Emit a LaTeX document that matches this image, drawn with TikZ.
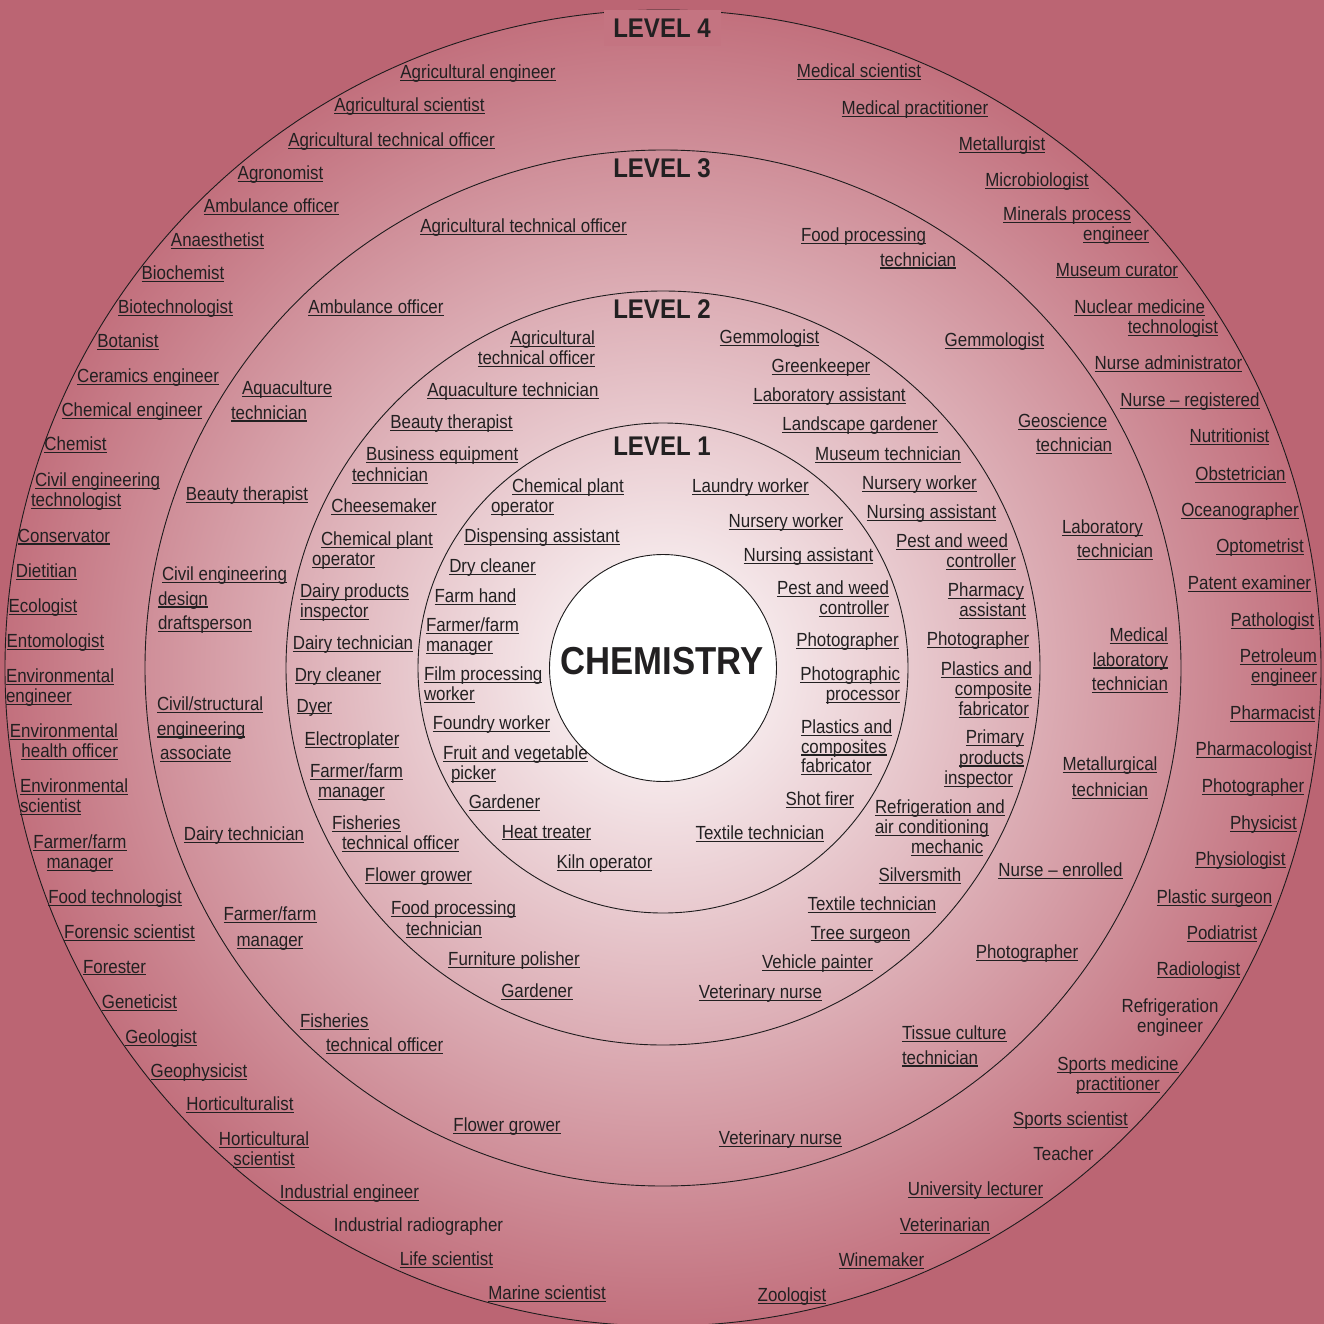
\documentclass[tikz,border=0pt]{standalone}
\usepackage{fontspec}
\setmainfont[FakeStretch=0.89]{Liberation Sans}
\definecolor{bgc}{RGB}{187,101,115}
\definecolor{edgec}{RGB}{194,112,125}
\definecolor{patchc}{RGB}{196,116,129}
\definecolor{txt}{RGB}{34,32,33}
\definecolor{linec}{RGB}{30,28,29}
\newsavebox\ulxbox
\newcommand\ulx[1]{\sbox\ulxbox{#1}\rlap{\rule[-2.3pt]{\wd\ulxbox}{1.1pt}}\usebox\ulxbox}
\tikzset{
 lab/.style={inner sep=0pt, outer sep=0pt, text=txt, font=\fontsize{19}{20}\selectfont, anchor=north},
 labw/.style={lab, anchor=north west, align=left},
 labe/.style={lab, anchor=north east, align=right},
 labc/.style={lab, anchor=north, align=center},
 wide/.style={font=\fontsize{19}{24.5}\selectfont},
 lvl/.style={inner sep=0pt, outer sep=0pt, text=txt, font=\bfseries\fontsize{27}{27}\selectfont, anchor=north},
 ring/.style={draw=linec, line width=0.9pt}
}
\begin{document}
\begin{tikzpicture}[x=1pt,y=-1pt]
\useasboundingbox (0,0) rectangle (1324,1324);
\fill[bgc] (0,0) rectangle (1324,1324);
\shade[inner color=white, outer color=edgec] (663,668) circle (658pt);
\draw[ring] (663,668) circle (658pt);
\draw[ring] (663,668) circle (518pt);
\draw[ring] (663,668) circle (377pt);
\draw[ring] (663,668) circle (245pt);
\draw[ring, fill=white] (663,668) circle (113.5pt);
% level titles
\node[lvl, fill=patchc, minimum width=117pt, minimum height=36pt] (lv4) at (662,10) {LEVEL 4};
\node[lvl] (lv3) at (662,159) {LEVEL 3};
\node[lvl] (lv2) at (662,300) {LEVEL 2};
\node[lvl] (lv1) at (662,437) {LEVEL 1};
\node[inner sep=0pt, text=txt, font=\bfseries\fontsize{39}{39}\selectfont, anchor=north] (chem) at (662,647) {CHEMISTRY};
% ---------- level 4, left ----------
\node[lab] (a01) at (478,65) {\ulx{Agricultural engineer}};
\node[lab] (a02) at (409.5,98) {\ulx{Agricultural scientist}};
\node[lab] (a03) at (391.5,133) {\ulx{Agricultural technical officer}};
\node[lab] (a04) at (280.5,166) {\ulx{Agronomist}};
\node[lab] (a05) at (271.5,199) {\ulx{Ambulance officer}};
\node[lab] (a06) at (217.5,233) {\ulx{Anaesthetist}};
\node[lab] (a07) at (183,266) {\ulx{Biochemist}};
\node[lab] (a08) at (175.5,300) {\ulx{Biotechnologist}};
\node[lab] (a09) at (128,334) {\ulx{Botanist}};
\node[lab] (a10) at (148,369) {\ulx{Ceramics engineer}};
\node[lab] (a11) at (132,403) {\ulx{Chemical engineer}};
\node[lab] (a12) at (75.5,437) {\ulx{Chemist}};
\node[labw] (a13) at (31,473) {\hspace*{4pt}\ulx{Civil engineering}\\\ulx{technologist}};
\node[lab] (a14) at (64,529) {\ulx{Conservator}};
\node[lab] (a15) at (46.5,564) {\ulx{Dietitian}};
\node[lab] (a16) at (43,599) {\ulx{Ecologist}};
\node[lab] (a17) at (55.5,634) {\ulx{Entomologist}};
\node[labw] (a18) at (6,669) {\ulx{Environmental}\\\ulx{engineer}};
\node[labe] (a19) at (118,724) {\ulx{Environmental}\\\ulx{health officer}};
\node[labw] (a20) at (20,779) {\ulx{Environmental}\\\ulx{scientist}};
\node[labc] (a21) at (80,835) {\ulx{Farmer/farm}\\\ulx{manager}};
\node[lab] (a22) at (115,890) {\ulx{Food technologist}};
\node[lab] (a23) at (129.5,925) {\ulx{Forensic scientist}};
\node[lab] (a24) at (114.5,960) {\ulx{Forester}};
\node[lab] (a25) at (139.5,995) {\ulx{Geneticist}};
\node[lab] (a26) at (161,1030) {\ulx{Geologist}};
\node[lab] (a27) at (199,1064) {\ulx{Geophysicist}};
\node[lab] (a28) at (240,1097) {\ulx{Horticulturalist}};
\node[labc] (a29) at (264,1132) {\ulx{Horticultural}\\\ulx{scientist}};
\node[lab] (a30) at (349.5,1185) {\ulx{Industrial engineer}};
\node[lab] (a31) at (418.5,1218) {Industrial radiographer};
\node[lab] (a32) at (446.5,1252) {\ulx{Life scientist}};
\node[lab] (a33) at (547,1286) {\ulx{Marine scientist}};
% ---------- level 4, right ----------
\node[lab] (b01) at (859,64) {\ulx{Medical scientist}};
\node[lab] (b02) at (915,101) {\ulx{Medical practitioner}};
\node[lab] (b03) at (1002,137) {\ulx{Metallurgist}};
\node[lab] (b04) at (1037,173) {\ulx{Microbiologist}};
\node[labe] (b05) at (1149,207) {\ulx{Minerals process}\hspace*{18pt}\\\ulx{engineer}};
\node[lab] (b06) at (1117,263) {\ulx{Museum curator}};
\node[labe] (b07) at (1218,300) {\ulx{Nuclear medicine}\hspace*{13pt}\\\ulx{technologist}};
\node[lab] (b08) at (1168.5,356) {\ulx{Nurse administrator}};
\node[lab] (b09) at (1190,393) {\ulx{Nurse -- registered}};
\node[lab] (b10) at (1229.5,429) {\ulx{Nutritionist}};
\node[lab] (b11) at (1240.5,467) {\ulx{Obstetrician}};
\node[lab] (b12) at (1240,503) {\ulx{Oceanographer}};
\node[lab] (b13) at (1260,539) {\ulx{Optometrist}};
\node[lab] (b14) at (1249.5,576) {\ulx{Patent examiner}};
\node[lab] (b15) at (1272.5,613) {\ulx{Pathologist}};
\node[labe] (b16) at (1317,649) {\ulx{Petroleum}\\\ulx{engineer}};
\node[lab] (b17) at (1272.5,706) {\ulx{Pharmacist}};
\node[lab] (b18) at (1254,742) {\ulx{Pharmacologist}};
\node[lab] (b19) at (1253,779) {\ulx{Photographer}};
\node[lab] (b20) at (1263.5,816) {\ulx{Physicist}};
\node[lab] (b21) at (1240.5,852) {\ulx{Physiologist}};
\node[lab] (b22) at (1214.5,890) {\ulx{Plastic surgeon}};
\node[lab] (b23) at (1222,926) {\ulx{Podiatrist}};
\node[lab] (b24) at (1198.5,962) {\ulx{Radiologist}};
\node[labc] (b25) at (1170,999) {Refrigeration\\engineer};
\node[labc] (b26) at (1118,1057) {\ulx{Sports medicine}\\\ulx{practitioner}};
\node[lab] (b27) at (1070.5,1112) {\ulx{Sports scientist}};
\node[lab] (b28) at (1063.5,1147) {Teacher};
\node[lab] (b29) at (975.5,1182) {\ulx{University lecturer}};
\node[lab] (b30) at (945,1218) {\ulx{Veterinarian}};
\node[lab] (b31) at (881.5,1253) {\ulx{Winemaker}};
\node[lab] (b32) at (792,1288) {\ulx{Zoologist}};
% ---------- level 3 ----------
\node[lab] (c01) at (523.5,219) {\ulx{Agricultural technical officer}};
\node[labw, wide] (c02) at (801,228) {\ulx{Food processing}\\\hspace*{79pt}\ulx{technician}};
\node[lab] (c03) at (376,300) {\ulx{Ambulance officer}};
\node[labw, wide] (c04) at (231,381) {\hspace*{11pt}\ulx{Aquaculture}\\\ulx{technician}};
\node[lab] (c05) at (247,487) {\ulx{Beauty therapist}};
\node[labw, wide] (c06) at (158,567) {\hspace*{4pt}\ulx{Civil engineering}\\\ulx{design}\\\ulx{draftsperson}};
\node[labw, wide] (c07) at (157,697) {\ulx{Civil/structural}\\\ulx{engineering}\\\hspace*{3pt}\ulx{associate}};
\node[lab] (c08) at (244,827) {\ulx{Dairy technician}};
\node[labc, font=\fontsize{19}{26}\selectfont] (c09) at (270,907) {\ulx{Farmer/farm}\\\ulx{manager}};
\node[labw, font=\fontsize{19}{24}\selectfont] (c10) at (300,1014) {\ulx{Fisheries}\\\hspace*{26pt}\ulx{technical officer}};
\node[lab] (c11) at (507,1118) {\ulx{Flower grower}};
\node[lab] (c12) at (780.5,1131) {\ulx{Veterinary nurse}};
\node[labw, wide] (c13) at (902,1026) {\ulx{Tissue culture}\\\ulx{technician}};
\node[lab] (c14) at (1027,945) {\ulx{Photographer}};
\node[lab] (c15) at (1060.5,863) {\ulx{Nurse -- enrolled}};
\node[labc, font=\fontsize{19}{26}\selectfont] (c16) at (1110,757) {\ulx{Metallurgical}\\\ulx{technician}};
\node[labe, wide] (c17) at (1168,628) {\ulx{Medical}\\\ulx{laboratory}\\\ulx{technician}};
\node[labw, font=\fontsize{19}{24}\selectfont] (c18) at (1062,520) {\ulx{Laboratory}\\\hspace*{15pt}\ulx{technician}};
\node[labw, font=\fontsize{19}{24}\selectfont] (c19) at (1018,414) {\ulx{Geoscience}\\\hspace*{18pt}\ulx{technician}};
\node[lab] (c20) at (994.5,333) {\ulx{Gemmologist}};
% ---------- level 2 ----------
\node[labe] (d01) at (595,331) {\ulx{Agricultural}\\\ulx{technical officer}};
\node[lab] (d02) at (769.5,330) {\ulx{Gemmologist}};
\node[lab] (d03) at (821,359) {\ulx{Greenkeeper}};
\node[lab] (d04) at (829.5,388) {\ulx{Laboratory assistant}};
\node[lab] (d05) at (860,417) {\ulx{Landscape gardener}};
\node[lab] (d06) at (513,383) {\ulx{Aquaculture technician}};
\node[lab] (d07) at (451.5,415) {\ulx{Beauty therapist}};
\node[labw, font=\fontsize{19}{21}\selectfont] (d08) at (352,447) {\hspace*{14pt}\ulx{Business equipment}\\\ulx{technician}};
\node[lab] (d09) at (384,499) {\ulx{Cheesemaker}};
\node[labw] (d10) at (312,532) {\hspace*{9pt}\ulx{Chemical plant}\\\ulx{operator}};
\node[labw] (d11) at (300,584) {\ulx{Dairy products}\\\ulx{inspector}};
\node[lab] (d12) at (353,636) {\ulx{Dairy technician}};
\node[lab] (d13) at (338,668) {\ulx{Dry cleaner}};
\node[lab] (d14) at (314.5,699) {\ulx{Dyer}};
\node[lab] (d15) at (352,732) {\ulx{Electroplater}};
\node[labw] (d16) at (310,764) {\ulx{Farmer/farm}\\\hspace*{8pt}\ulx{manager}};
\node[labw] (d17) at (332,816) {\ulx{Fisheries}\\\hspace*{10pt}\ulx{technical officer}};
\node[lab] (d18) at (418.5,868) {\ulx{Flower grower}};
\node[labw, font=\fontsize{19}{21}\selectfont] (d19) at (391,901) {\ulx{Food processing}\\\hspace*{15pt}\ulx{technician}};
\node[lab] (d20) at (514,952) {\ulx{Furniture polisher}};
\node[lab] (d21) at (537,984) {\ulx{Gardener}};
\node[lab] (d22) at (760.5,985) {\ulx{Veterinary nurse}};
\node[lab] (d23) at (817.5,955) {\ulx{Vehicle painter}};
\node[lab] (d24) at (860.5,926) {\ulx{Tree surgeon}};
\node[lab] (d25) at (872,897) {\ulx{Textile technician}};
\node[lab] (d26) at (920,868) {\ulx{Silversmith}};
\node[labw] (d27) at (875,800) {\ulx{Refrigeration and}\\\ulx{air conditioning}\\\hspace*{36pt}\ulx{mechanic}};
\node[labe, font=\fontsize{19}{20.5}\selectfont] (d28) at (1024,730) {\ulx{Primary}\\\ulx{products}\hspace*{6pt}\\\ulx{inspector}\hspace*{11pt}};
\node[labe] (d29) at (1032,662) {\ulx{Plastics and}\\\ulx{composite}\\\ulx{fabricator}\hspace*{3pt}};
\node[lab] (d30) at (978,632) {\ulx{Photographer}};
\node[labe] (d31) at (1026,583) {\ulx{Pharmacy}\hspace*{2pt}\\\ulx{assistant}};
\node[labe] (d32) at (1016,534) {\ulx{Pest and weed}\hspace*{8pt}\\\ulx{controller}};
\node[lab] (d33) at (931.5,505) {\ulx{Nursing assistant}};
\node[lab] (d34) at (919.5,476) {\ulx{Nursery worker}};
\node[lab] (d35) at (888,447) {\ulx{Museum technician}};
% ---------- level 1 ----------
\node[labw] (e01) at (491,479) {\hspace*{21pt}\ulx{Chemical plant}\\\ulx{operator}};
\node[lab] (e02) at (750.5,479) {\ulx{Laundry worker}};
\node[lab] (e03) at (786,514) {\ulx{Nursery worker}};
\node[lab] (e04) at (542,529) {\ulx{Dispensing assistant}};
\node[lab] (e05) at (808.5,548) {\ulx{Nursing assistant}};
\node[lab] (e06) at (492.5,559) {\ulx{Dry cleaner}};
\node[labe] (e07) at (889,581) {\ulx{Pest and weed}\\\ulx{controller}};
\node[lab] (e08) at (475.5,589) {\ulx{Farm hand}};
\node[labw] (e09) at (426,618) {\ulx{Farmer/farm}\\\ulx{manager}};
\node[lab] (e10) at (847.5,633) {\ulx{Photographer}};
\node[labw] (e11) at (424,667) {\ulx{Film processing}\\\ulx{worker}};
\node[labe] (e12) at (900,667) {\ulx{Photographic}\\\ulx{processor}};
\node[lab] (e13) at (491.5,716) {\ulx{Foundry worker}};
\node[labw, font=\fontsize{19}{19.5}\selectfont] (e14) at (801,720) {\ulx{Plastics and}\\\ulx{composites}\\\ulx{fabricator}};
\node[labw] (e15) at (443,746) {\ulx{Fruit and vegetable}\\\hspace*{8pt}\ulx{picker}};
\node[lab] (e16) at (504.5,795) {\ulx{Gardener}};
\node[lab] (e17) at (820,792) {\ulx{Shot firer}};
\node[lab] (e18) at (546.5,825) {\ulx{Heat treater}};
\node[lab] (e19) at (760,826) {\ulx{Textile technician}};
\node[lab] (e20) at (604.5,855) {\ulx{Kiln operator}};
\end{tikzpicture}
\end{document}
